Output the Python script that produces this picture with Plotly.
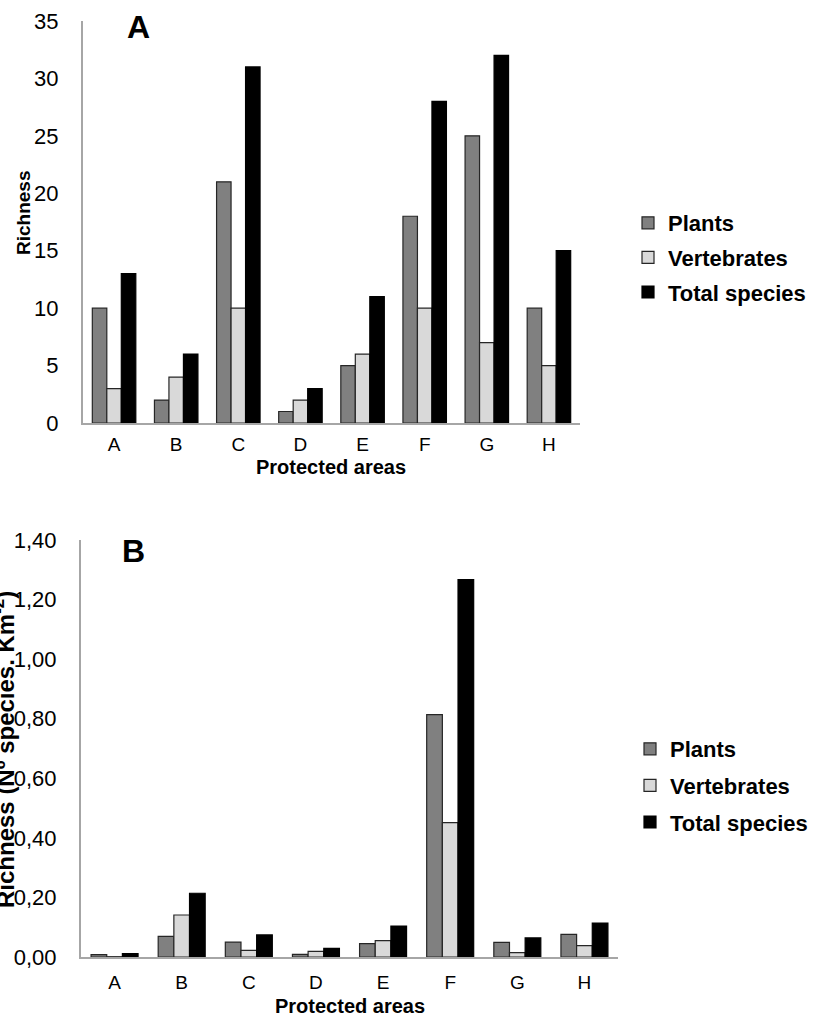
import plotly.graph_objects as go

areas = ["A", "B", "C", "D", "E", "F", "G", "H"]

# Panel A: richness (number of species)
plants_a = [10, 2, 21, 1, 5, 18, 25, 10]
vert_a = [3, 4, 10, 2, 6, 10, 7, 5]
total_a = [13, 6, 31, 3, 11, 28, 32, 15]

# Panel B: richness density (species per km2)
plants_b = [0.008, 0.069, 0.050, 0.009, 0.045, 0.814, 0.049, 0.076]
vert_b = [0.001, 0.141, 0.022, 0.019, 0.055, 0.451, 0.015, 0.038]
total_b = [0.011, 0.214, 0.074, 0.029, 0.104, 1.267, 0.064, 0.114]

series_names = ["Plants", "Vertebrates", "Total species"]
colors = ["#808080", "#d9d9d9", "#000000"]
outlines = ["#262626", "#262626", "#000000"]

W, H = 819, 1030
FONT = "Arial, Liberation Sans, sans-serif"


def px(x):
    return x / W


def py(y):
    return 1 - y / H


fig = go.Figure()

for i, (name, vals) in enumerate(zip(series_names, [plants_a, vert_a, total_a])):
    fig.add_trace(go.Bar(
        x=areas, y=vals, name=name, xaxis="x", yaxis="y",
        marker=dict(color=colors[i], line=dict(color=outlines[i], width=1.2)),
        legend="legend", legendgroup="a" + str(i),
    ))

for i, (name, vals) in enumerate(zip(series_names, [plants_b, vert_b, total_b])):
    fig.add_trace(go.Bar(
        x=areas, y=vals, name=name, xaxis="x2", yaxis="y2",
        marker=dict(color=colors[i], line=dict(color=outlines[i], width=1.2)),
        legend="legend2", legendgroup="b" + str(i),
    ))

base_axis = dict(showline=True, linecolor="#a6a6a6", linewidth=2,
                 showgrid=False, zeroline=False, automargin=False, ticks="")
xfont = dict(family=FONT, size=19, color="#000000")
yfont = dict(family=FONT, size=22, color="#000000")

leg_font = dict(family=FONT, size=22, color="#000000", weight="bold")

fig.update_layout(
    width=W, height=H,
    margin=dict(l=0, r=0, t=0, b=0, autoexpand=False),
    paper_bgcolor="white", plot_bgcolor="white",
    separators=",.",
    barmode="group", bargap=0.3, bargroupgap=0,
    font=dict(family=FONT, color="#000000"),
    xaxis=dict(domain=[px(83), px(580)], anchor="y", ticklabelstandoff=3,
               tickfont=xfont, **base_axis),
    yaxis=dict(domain=[py(423), py(21)], anchor="x", range=[0, 35], dtick=5,
               ticklabelstandoff=18, tickfont=yfont, **base_axis),
    xaxis2=dict(domain=[px(81), px(618)], anchor="y2", ticklabelstandoff=7,
                tickfont=xfont, **base_axis),
    yaxis2=dict(domain=[py(957), py(540)], anchor="x2", range=[0, 1.4], dtick=0.2,
                tickformat=".2f", ticklabelstandoff=18, tickfont=yfont, **base_axis),
    legend=dict(x=px(628), y=py(202), xanchor="left", yanchor="top",
                traceorder="grouped", tracegroupgap=3, font=leg_font,
                bgcolor="rgba(0,0,0,0)"),
    legend2=dict(x=px(630), y=py(728), xanchor="left", yanchor="top",
                 traceorder="grouped", tracegroupgap=5, font=leg_font,
                 bgcolor="rgba(0,0,0,0)"),
)


def note(text, x, y, size, angle=0):
    fig.add_annotation(text=text, x=px(x), y=py(y), xref="paper", yref="paper",
                       xanchor="center", yanchor="middle", textangle=angle,
                       showarrow=False,
                       font=dict(family=FONT, size=size, color="#000000", weight="bold"))


note("Richness", 23, 213, 19, -90)
note("Richness (Nº species. Km<sup>-2</sup>)", 4, 750, 24, -90)
note("Protected areas", 331, 467, 20)
note("Protected areas", 350, 1006, 20)
note("A", 138, 27, 32)
note("B", 133, 551, 32)

fig.write_html("out.html", config={"displayModeBar": False},
               post_script="document.body.style.margin='0';")
